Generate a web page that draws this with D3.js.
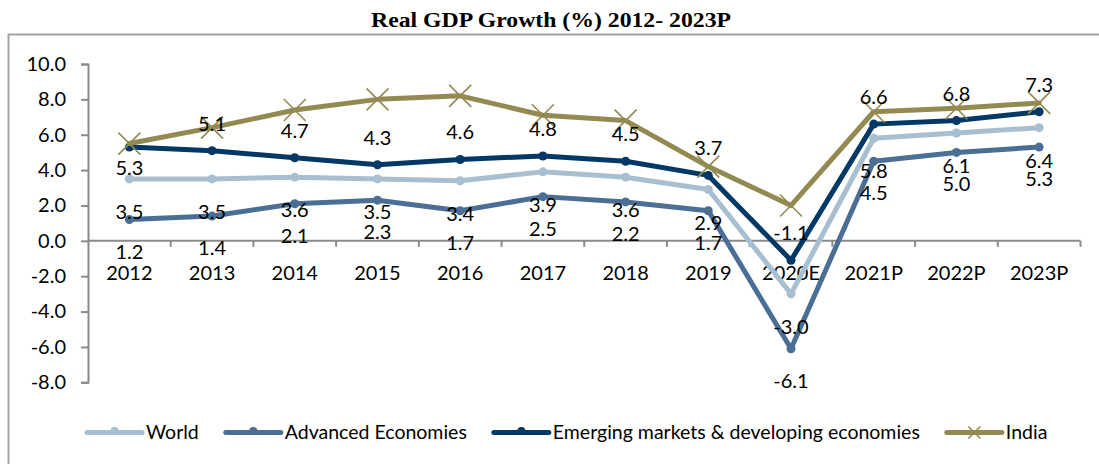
<!DOCTYPE html>
<html lang="en">
<head>
<meta charset="UTF-8">
<title>Real GDP Growth</title>
<script src="https://d3js.org/d3.v7.min.js"></script>
<style>
    body {
        margin: 0;
        background-color: #ffffff;
    }
    text {
        font-family: Lato, "Open Sans", sans-serif;
    }
</style>
</head>
<body>

<div id="my_dataviz"></div>

<script>

//data
var years = ["2012", "2013", "2014", "2015", "2016", "2017", "2018", "2019", "2020E", "2021P", "2022P", "2023P"];
var world = [3.5, 3.5, 3.6, 3.5, 3.4, 3.9, 3.6, 2.9, -3.0, 5.8, 6.1, 6.4];
var advanced = [1.2, 1.4, 2.1, 2.3, 1.7, 2.5, 2.2, 1.7, -6.1, 4.5, 5.0, 5.3];
var emerging = [5.3, 5.1, 4.7, 4.3, 4.6, 4.8, 4.5, 3.7, -1.1, 6.6, 6.8, 7.3];
var india = [5.5, 6.4, 7.4, 8.0, 8.2, 7.1, 6.8, 4.2, 2.0, 7.3, 7.5, 7.8];
var yTicks = [-8, -6, -4, -2, 0, 2, 4, 6, 8, 10];

var series = [
    {name: "World", values: world, color: "#a7bfd1", marker: "dot", labelDy: 33},
    {name: "Advanced Economies", values: advanced, color: "#4a6e94", marker: "dot", labelDy: 32},
    {name: "Emerging markets & developing economies", values: emerging, color: "#023865", marker: "dot", labelDy: -27},
    {name: "India", values: india, color: "#938a52", marker: "x", labelDy: null}
];

//hyphen minus like the reference, one decimal
function fmt(d) { return d3.format(".1f")(d).replace("\u2212", "-"); }

//dimensions
var W = 1099, H = 464;
var plot = {left: 88, right: 1080.5, top: 64, bottom: 382.3};

var svg = d3.select("#my_dataviz")
    .append("svg")
        .attr("width", W)
        .attr("height", H)
        .style("display", "block");

//outer frame (clipped at right and bottom like the reference)
svg.append("rect")
    .attr("x", 8.5)
    .attr("y", 34.5)
    .attr("width", 1100)
    .attr("height", 440)
    .attr("fill", "none")
    .attr("stroke", "#a3a3a3")
    .attr("stroke-width", 2);

//title
svg.append("text")
    .attr("x", 551)
    .attr("y", 27)
    .attr("text-anchor", "middle")
    .attr("textLength", 360)
    .attr("lengthAdjust", "spacingAndGlyphs")
    .style("font-family", "'Liberation Serif', 'DejaVu Serif', serif")
    .style("font-weight", "bold")
    .style("font-size", "21px")
    .text("Real GDP Growth (%) 2012- 2023P");

//scales
var x = d3.scaleBand()
    .domain(years)
    .range([plot.left, plot.right])
    .padding(0);

var y = d3.scaleLinear()
    .domain([-8, 10])
    .range([plot.bottom, plot.top]);

function cx(i) { return x(years[i]) + x.bandwidth() / 2; }

var axisColor = "#8a8a8a";

//y axis
var yAxis = svg.append("g")
    .attr("transform", "translate(" + plot.left + ",0)")
    .call(d3.axisLeft(y).tickValues(yTicks).tickSize(7).tickPadding(15).tickFormat(fmt));
yAxis.select(".domain").attr("stroke", axisColor).attr("stroke-width", 2);
yAxis.selectAll(".tick line").attr("stroke", axisColor).attr("stroke-width", 2);
yAxis.selectAll(".tick text")
    .attr("fill", "#000")
    .style("font-size", "20px")
    .style("font-family", "Lato, sans-serif");

//x axis at zero, ticks between categories
var xAxisG = svg.append("g")
    .attr("transform", "translate(0," + y(0) + ")");
xAxisG.append("line")
    .attr("x1", plot.left)
    .attr("x2", plot.right)
    .attr("stroke", axisColor)
    .attr("stroke-width", 2);
xAxisG.selectAll(".xtick")
    .data(years)
    .enter()
    .append("line")
        .attr("class", "xtick")
        .attr("x1", function(d) { return x(d) + x.bandwidth(); })
        .attr("x2", function(d) { return x(d) + x.bandwidth(); })
        .attr("y1", 0)
        .attr("y2", 6)
        .attr("stroke", axisColor)
        .attr("stroke-width", 2);
xAxisG.selectAll(".xlabel")
    .data(years)
    .enter()
    .append("text")
        .attr("class", "xlabel")
        .attr("x", function(d) { return x(d) + x.bandwidth() / 2; })
        .attr("y", 32)
        .attr("dy", "0.35em")
        .attr("text-anchor", "middle")
        .style("font-size", "20px")
        .attr("fill", "#000")
        .text(function(d) { return d; });

//lines
var line = d3.line()
    .x(function(d, i) { return cx(i); })
    .y(function(d) { return y(d); });

series.forEach(function(s) {
    svg.append("path")
        .datum(s.values)
        .attr("d", line)
        .attr("fill", "none")
        .attr("stroke", s.color)
        .attr("stroke-width", 5)
        .attr("stroke-linejoin", "round")
        .attr("stroke-linecap", "round");

    if (s.marker === "dot") {
        svg.selectAll(null)
            .data(s.values)
            .enter()
            .append("circle")
                .attr("cx", function(d, i) { return cx(i); })
                .attr("cy", function(d) { return y(d); })
                .attr("r", 4.5)
                .attr("fill", s.color);
    } else {
        var g = svg.selectAll(null)
            .data(s.values)
            .enter()
            .append("g")
                .attr("transform", function(d, i) { return "translate(" + cx(i) + "," + y(d) + ")"; });
        g.append("path")
            .attr("d", "M-11,-11L11,11M-11,11L11,-11")
            .attr("stroke", s.color)
            .attr("stroke-width", 1.6)
            .attr("fill", "none");
    }
});

//data labels
series.forEach(function(s) {
    if (s.labelDy === null) return;
    svg.selectAll(null)
        .data(s.values)
        .enter()
        .append("text")
            .attr("x", function(d, i) { return cx(i); })
            .attr("y", function(d, i) {
                var dy = s.labelDy;
                if (s.name.indexOf("Emerging") === 0 && i === 0) dy = 21;
                return y(d) + dy;
            })
            .attr("dy", "0.35em")
            .attr("text-anchor", "middle")
            .style("font-size", "20px")
            .attr("fill", "#000")
            .text(fmt);
});

//legend
var legend = svg.append("g").attr("transform", "translate(0,432.5)");
var lx = 87;
series.forEach(function(s) {
    var item = legend.append("g").attr("transform", "translate(" + lx + ",0)");
    item.append("line")
        .attr("x1", 0)
        .attr("x2", 55)
        .attr("stroke", s.color)
        .attr("stroke-width", 5)
        .attr("stroke-linecap", "round");
    if (s.marker === "dot") {
        item.append("circle")
            .attr("cx", 27.5)
            .attr("cy", -1.5)
            .attr("r", 4)
            .attr("fill", s.color);
    } else {
        item.append("path")
            .attr("d", "M21.5,-6L33.5,6M21.5,6L33.5,-6")
            .attr("stroke", s.color)
            .attr("stroke-width", 1.6);
    }
    var t = item.append("text")
        .attr("x", 59)
        .attr("dy", "0.35em")
        .style("font-size", "19.5px")
        .attr("fill", "#000")
        .text(s.name);
    lx += 59 + t.node().getComputedTextLength() + 27;
});

</script>
</body>
</html>
